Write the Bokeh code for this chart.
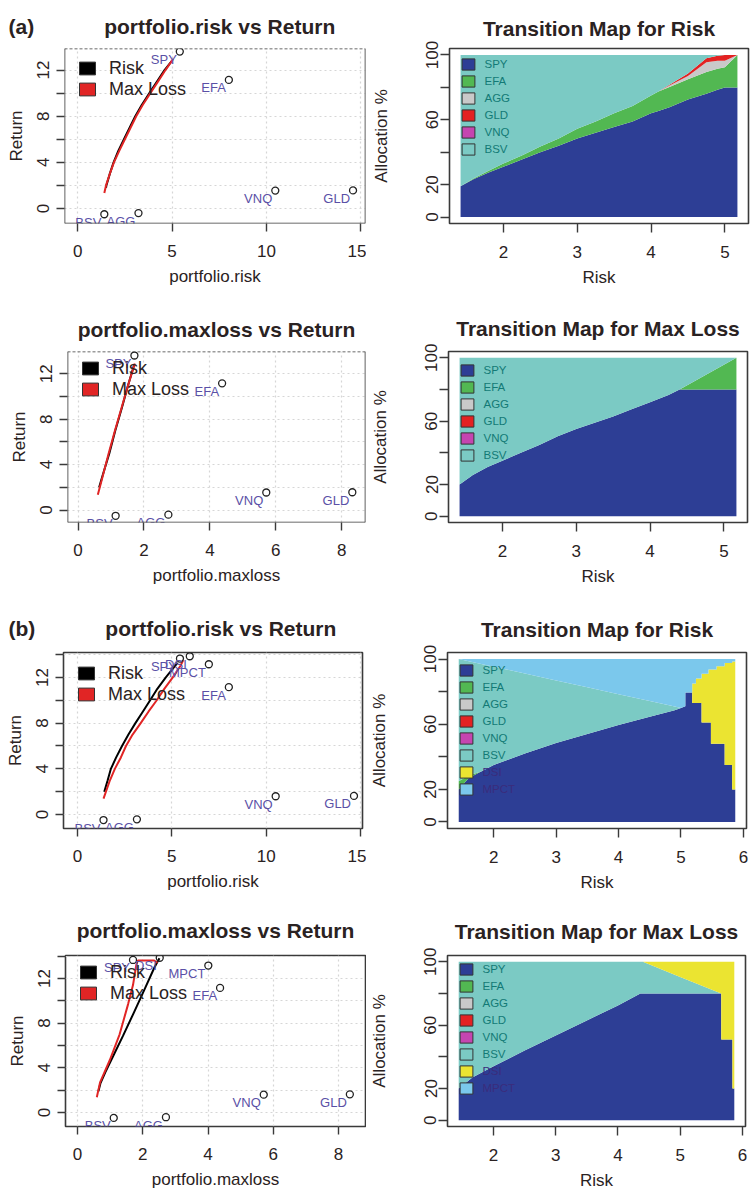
from bokeh.plotting import figure
from bokeh.layouts import column, row
from bokeh.models import (ColumnDataSource, FixedTicker, Range1d, Span,
                          Legend, LegendItem)
from bokeh.core.properties import value
from bokeh.embed import file_html
from bokeh.resources import INLINE

NAN = float("nan")

# ======================= DATA =======================
# ---- (a) asset universe: risk, max loss, return
a_names = ["SPY", "EFA", "AGG", "GLD", "VNQ", "BSV"]
a_return = [13.6, 11.15, -0.4, 1.57, 1.55, -0.5]
a_risk = [5.41, 8.01, 3.22, 14.59, 10.47, 1.41]
a_maxloss = [1.71, 4.37, 2.74, 8.32, 5.71, 1.14]

# ---- (b) asset universe
b_names = ["SPY", "EFA", "AGG", "GLD", "VNQ", "BSV", "DSI", "MPCT"]
b_return = [13.65, 11.15, -0.42, 1.63, 1.6, -0.48, 13.85, 13.15]
b_risk = [5.43, 8.02, 3.15, 14.65, 10.5, 1.38, 5.95, 6.96]
b_maxloss = [1.70, 4.37, 2.71, 8.35, 5.71, 1.11, 2.52, 4.01]

# ---- frontiers (black = Risk frontier, red = Max Loss frontier)
A1_black_x = [1.5, 1.52, 1.7, 1.9, 2.15, 2.45, 2.75, 3.05, 3.4, 3.8, 4.2, 4.6, 4.97]
A1_black_y = [1.8, 2, 3, 4, 5, 6, 7, 8, 9, 10, 11, 12, 12.75]
A1_red_x = [1.41, 1.5, 1.7, 1.92, 2.2, 2.5, 2.8, 3.1, 3.45, 3.85, 4.25, 4.65, 5.05]
A1_red_y = [1.35, 2, 3, 4, 5, 6, 7, 8, 9, 10, 11, 12, 12.95]

A2_black_x = [0.64, 0.74, 0.95, 1.13, 1.33, 1.52, 1.70]
A2_black_y = [2.0, 3, 5, 7, 9, 11, 12.75]
A2_red_x = [0.60, 0.75, 0.93, 1.12, 1.32, 1.52, 1.72]
A2_red_y = [1.35, 3, 5, 7, 9, 11, 12.9]

B1_black_x = [1.42, 1.6, 1.77, 2.05, 2.36, 2.7, 3.07, 3.46, 3.85, 4.23, 4.68, 5.17, 5.3]
B1_black_y = [2.0, 3, 4, 5, 6, 7, 8, 9, 10, 11, 12, 13, 13.3]
B1_red_x = [1.38, 1.72, 1.98, 2.3, 2.57, 2.92, 3.35, 3.76, 4.2, 4.6, 5.05, 5.45, 5.6]
B1_red_y = [1.4, 3, 4, 5, 6, 7, 8, 9, 10, 11, 12, 13, 13.5]

B2_black_x = [0.64, 0.70, 0.85, 1.10, 1.40, 1.72, 2.05, 2.36, 2.51]
B2_black_y = [1.9, 2.6, 3.6, 5.1, 6.9, 8.9, 11.0, 13.0, 13.8]
B2_red_x = [0.59, 0.69, 0.99, 1.29, 1.55, 1.70, 1.80, 1.85, 2.35, 2.45]
B2_red_y = [1.37, 2.7, 4.7, 7.0, 9.7, 11.4, 13.2, 13.6, 13.6, 13.4]

# ---- transition maps (allocation %, stacked)
TA1_x = [1.42, 1.6, 1.8, 2.0, 2.25, 2.5, 2.75, 3.0, 3.25, 3.5, 3.75, 4.0, 4.1, 4.25, 4.5, 4.75, 4.9, 5.0, 5.17]
TA1_SPY = [19, 23.5, 27.5, 31, 35.5, 40, 44, 48.5, 52, 55.5, 59, 64, 65.5, 67.8, 72.5, 76, 78.5, 80, 80]
TA1_EFA = [0, 0.5, 1, 2, 2.5, 3.5, 4.5, 6, 7, 8.5, 9.5, 11, 12, 12.5, 12.5, 13.5, 13, 12.5, 20]
TA1_AGG = [0, 0, 0, 0, 0, 0, 0, 0, 0, 0, 0, 0, 0, 0.8, 2, 6, 5, 4, 0]
TA1_GLD = [0, 0, 0, 0, 0, 0, 0, 0, 0, 0, 0, 0, 0, 0.6, 1.5, 2.5, 3, 3.5, 0]
TA1_BSV = [81, 76, 71.5, 67, 62, 56.5, 51.5, 45.5, 41, 36, 31.5, 25, 22.5, 18.3, 11.5, 2, 0.5, 0, 0]

TA2_x = [1.42, 1.6, 1.8, 2.0, 2.25, 2.5, 2.75, 3.0, 3.25, 3.5, 3.75, 4.0, 4.25, 4.4, 4.6, 4.8, 5.0, 5.17]
TA2_SPY = [20, 26, 31, 35, 40, 45, 50.5, 55, 59, 63, 67.5, 72, 76.5, 80, 80, 80, 80, 80]
TA2_EFA = [0, 0, 0, 0, 0, 0, 0, 0, 0, 0, 0, 0, 0, 0, 5.2, 10.4, 15.6, 20]
TA2_BSV = [80, 74, 69, 65, 60, 55, 49.5, 45, 41, 37, 32.5, 28, 23.5, 20, 14.8, 9.6, 4.4, 0]

TB1_x = [1.44, 1.6, 1.8, 2.0, 2.5, 3.0, 3.5, 4.0, 4.5, 4.9, 5.0, 5.07, 5.07, 5.18, 5.18, 5.24, 5.24,
         5.33, 5.33, 5.44, 5.44, 5.48, 5.48, 5.57, 5.57, 5.70, 5.70, 5.82, 5.82, 5.87]
TB1_SPY = [20, 27, 31, 35, 42, 48.5, 54, 59.5, 64.5, 68.5, 70, 71, 79.5, 79.5, 73, 73, 73,
           73, 61, 61, 61, 61, 48, 48, 48, 48, 35, 35, 20, 20]
TB1_EFA = [5, 1.5, 0, 0, 0, 0, 0, 0, 0, 0, 0, 0, 0, 0, 0, 0, 0,
           0, 0, 0, 0, 0, 0, 0, 0, 0, 0, 0, 0, 0]
TB1_BSV = [75, 70.2, 66, 60.3, 49.1, 38.3, 28.6, 18.9, 9.7, 2.3, 0, 0, 0, 0, 0, 0, 0,
           0, 0, 0, 0, 0, 0, 0, 0, 0, 0, 0, 0, 0]
TB1_DSI = [0, 0, 0, 0, 0, 0, 0, 0, 0, 0, 0, 0, 0, 0, 12, 12, 15,
           15, 30, 30, 32.5, 32.5, 45.5, 45.5, 47.5, 47.5, 62.5, 62.5, 78.5, 78.5]
TB1_MPCT = [0, 1.3, 3.0, 4.7, 8.9, 13.2, 17.4, 21.6, 25.8, 29.2, 30, 29, 20.5, 20.5, 15, 15, 12,
            12, 9, 9, 6.5, 6.5, 6.5, 6.5, 4.5, 4.5, 2.5, 2.5, 1.5, 1.5]

TB2_x = [1.44, 1.66, 2.0, 2.5, 3.0, 3.5, 4.0, 4.36, 4.4, 5.0, 5.66, 5.66, 5.84, 5.84, 5.87]
TB2_SPY = [20, 27, 34, 44, 53.5, 63, 72.5, 80, 80, 80, 80, 51, 51, 20, 20]
TB2_BSV = [80, 73, 66, 56, 46.5, 37, 27.5, 20, 20, 10.5, 0, 0, 0, 0, 0]
TB2_DSI = [0, 0, 0, 0, 0, 0, 0, 0, 0, 9.5, 20, 49, 49, 80, 80]

# ======================= STYLE =======================
FONT = "Liberation Sans"
TXT = "#2a2222"
BOX = "#3a3a3a"
LAB = "#5a50a6"
LEGTXT = "#137a76"
LEGTXT2 = "#3a2c7c"
RED = "#e12525"
COLORS = {"SPY": "#2d3e95", "EFA": "#52b852", "AGG": "#c9c9c9", "GLD": "#e32222",
          "VNQ": "#c545b0", "BSV": "#7bcac4", "DSI": "#ebe431", "MPCT": "#7bc8ec"}
NBSP = "\u00a0"


def base_fig(geom, xr, yr, title, xlabel, ylabel, tick_out, ystd, ylstd, xstd, xlstd, tag=None):
    W, H, fl, ft, fw, fh = geom
    p = figure(width=W, height=H, x_range=Range1d(*xr), y_range=Range1d(*yr),
               output_backend="svg", toolbar_location=None, tools="",
               min_border_left=fl, min_border_top=ft,
               min_border_right=W - fl - fw, min_border_bottom=H - ft - fh)
    if tag:
        # panel tag "(a)"/"(b)" sits at the far left of the same title line
        p.title.text = tag + NBSP * 12 + title
        p.title.align = "left"
        p.title.offset = 8 - fl
    else:
        p.title.text = title
        p.title.align = "center"
    p.title.text_font = FONT
    p.title.text_font_size = "21px"
    p.title.text_font_style = "bold"
    p.title.text_color = TXT
    p.title.vertical_align = "bottom"
    p.title.standoff = ft - 27
    p.outline_line_color = BOX
    p.outline_line_width = 1.6
    for ax, lab in ((p.xaxis, xlabel), (p.yaxis, ylabel)):
        ax.axis_label = lab
        ax.axis_label_text_font = FONT
        ax.axis_label_text_font_style = "normal"
        ax.axis_label_text_font_size = "17px"
        ax.axis_label_text_color = TXT
        ax.major_label_text_font = FONT
        ax.major_label_text_font_size = "17px"
        ax.major_label_text_color = TXT
        ax.axis_line_color = None
        ax.major_tick_line_color = BOX
        ax.major_tick_line_width = 1.4
        ax.major_tick_out = tick_out
        ax.major_tick_in = 0
        ax.minor_tick_line_color = None
    p.yaxis.major_label_orientation = "vertical"
    p.yaxis.major_label_standoff = ystd
    p.yaxis.axis_label_standoff = ylstd
    p.xaxis.major_label_standoff = xstd
    p.xaxis.axis_label_standoff = xlstd
    return p


def frontier_panel(geom, xr, yr, xticks, yticks, title, xlabel, names, px, py,
                   bx, by, rx, ry, dotted_top, tag=None):
    W, H, fl, ft, fw, fh = geom
    p = base_fig(geom, xr, yr, title, xlabel, "Return", 8, 7, 9, 13, 7, tag)
    p.xaxis.ticker = FixedTicker(ticks=xticks)
    p.yaxis.ticker = FixedTicker(ticks=yticks)
    p.yaxis.major_label_overrides = {t: "" for t in yticks if t % 4 != 0}
    p.xgrid.ticker = FixedTicker(ticks=xticks)
    p.ygrid.ticker = FixedTicker(ticks=yticks)
    p.grid.grid_line_color = "#d6d6d6"
    p.grid.grid_line_dash = "2 3"
    p.grid.grid_line_width = 1.2
    if dotted_top:
        p.outline_line_color = None
        for loc, dim, dash in ((yr[0], "width", "solid"), (yr[1], "width", "3 2"),
                               (xr[0], "height", "solid"), (xr[1], "height", "solid")):
            p.add_layout(Span(location=loc, dimension=dim, line_color=BOX,
                              line_width=1.6, line_dash=dash))
    p.line(bx, by, line_color="black", line_width=2)
    p.line(rx, ry, line_color=RED, line_width=2)
    src = ColumnDataSource(dict(x=px, y=py, name=names))
    p.scatter("x", "y", source=src, marker="circle", size=7, fill_color=None,
              line_color="#222222", line_width=1.3)
    p.text("x", "y", text="name", source=src, text_align="right",
           text_baseline="middle", x_offset=-3, y_offset=8,
           text_font=value(FONT), text_font_size="13px", text_color=LAB)
    rb = p.rect(x=[NAN], y=[NAN], width=1, height=1, fill_color="black", line_color="#333333")
    rr = p.rect(x=[NAN], y=[NAN], width=1, height=1, fill_color=RED, line_color="#333333")
    leg = Legend(items=[LegendItem(label="Risk", renderers=[rb]),
                        LegendItem(label="Max Loss", renderers=[rr])],
                 location=(13, fh - 52.5), padding=0, margin=0, spacing=0,
                 glyph_width=20, glyph_height=16, label_height=21,
                 label_standoff=12, border_line_color=None,
                 background_fill_alpha=0, label_text_font=FONT,
                 label_text_font_size="18px", label_text_color=TXT)
    leg.level = "underlay"
    p.add_layout(leg)
    return p


def transition_panel(geom, xr, xticks, title, x, stack_names, stack_vals, legend_main, legend_extra):
    W, H, fl, ft, fw, fh = geom
    p = base_fig(geom, xr, (-4, 104), title, "Risk", "Allocation %", 9, 2, 33, 13, 7)
    p.grid.visible = False
    p.xaxis.ticker = FixedTicker(ticks=xticks)
    p.yaxis.ticker = FixedTicker(ticks=[0, 20, 40, 60, 80, 100])
    p.yaxis.major_label_overrides = {40: "", 80: ""}
    data = dict(x=x)
    for n, v in zip(stack_names, stack_vals):
        data[n] = v
    src = ColumnDataSource(data)
    p.varea_stack(stackers=stack_names, x="x", color=[COLORS[n] for n in stack_names], source=src)

    def make_legend(names, color, top_offset):
        items = []
        for n in names:
            r = p.rect(x=[NAN], y=[NAN], width=1, height=1, fill_color=COLORS[n],
                       line_color="#333333")
            items.append(LegendItem(label=n, renderers=[r]))
        h = len(names) * 14 + (len(names) - 1) * 3
        leg = Legend(items=items, location=(10.5, fh - top_offset - h), padding=0, margin=0,
                     spacing=3, glyph_width=16, glyph_height=14, label_height=14,
                     label_standoff=9, border_line_color=None, background_fill_alpha=0,
                     label_text_font=FONT, label_text_font_size="11.5px",
                     label_text_color=color)
        p.add_layout(leg)

    make_legend(legend_main, LEGTXT, 12)
    if legend_extra:
        make_legend(legend_extra, LEGTXT2, 12 + 6 * 17)
    return p


# ======================= PANELS =======================
L1 = frontier_panel((366, 300, 64, 48, 301, 176), (-0.7, 15.25), (-1.3, 13.87),
                    [0, 5, 10, 15], [0, 2, 4, 6, 8, 10, 12],
                    "portfolio.risk vs Return", "portfolio.risk",
                    a_names, a_risk, a_return, A1_black_x, A1_black_y, A1_red_x, A1_red_y,
                    True, tag="(a)")
R1 = transition_panel((386, 300, 83, 45, 299, 178), (1.27, 5.32), [2, 3, 4, 5],
                      "Transition Map for Risk", TA1_x,
                      ["SPY", "EFA", "AGG", "GLD", "BSV"],
                      [TA1_SPY, TA1_EFA, TA1_AGG, TA1_GLD, TA1_BSV],
                      ["SPY", "EFA", "AGG", "GLD", "VNQ", "BSV"], None)

L2 = frontier_panel((366, 300, 67, 48, 298, 175), (-0.32, 8.72), (-1.09, 13.95),
                    [0, 2, 4, 6, 8], [0, 2, 4, 6, 8, 10, 12],
                    "portfolio.maxloss vs Return", "portfolio.maxloss",
                    a_names, a_maxloss, a_return, A2_black_x, A2_black_y, A2_red_x, A2_red_y, True)
R2 = transition_panel((386, 300, 82, 51, 299, 171), (1.27, 5.32), [2, 3, 4, 5],
                      "Transition Map for Max Loss", TA2_x,
                      ["SPY", "EFA", "BSV"], [TA2_SPY, TA2_EFA, TA2_BSV],
                      ["SPY", "EFA", "AGG", "GLD", "VNQ", "BSV"], None)

L3 = frontier_panel((366, 300, 63, 52, 299, 176), (-0.74, 15.1), (-1.22, 14.18),
                    [0, 5, 10, 15], [0, 2, 4, 6, 8, 10, 12, 14],
                    "portfolio.risk vs Return", "portfolio.risk",
                    b_names, b_risk, b_return, B1_black_x, B1_black_y, B1_red_x, B1_red_y,
                    False, tag="(b)")
R3 = transition_panel((386, 300, 80, 51, 300, 177), (1.26, 6.05), [2, 3, 4, 5, 6],
                      "Transition Map for Risk", TB1_x,
                      ["SPY", "EFA", "BSV", "DSI", "MPCT"],
                      [TB1_SPY, TB1_EFA, TB1_BSV, TB1_DSI, TB1_MPCT],
                      ["SPY", "EFA", "AGG", "GLD", "VNQ", "BSV"], ["DSI", "MPCT"])

L4 = frontier_panel((366, 292, 65, 55, 300, 175), (-0.37, 8.83), (-1.25, 14.05),
                    [0, 2, 4, 6, 8], [0, 2, 4, 6, 8, 10, 12, 14],
                    "portfolio.maxloss vs Return", "portfolio.maxloss",
                    b_names, b_maxloss, b_return, B2_black_x, B2_black_y, B2_red_x, B2_red_y, False)
R4 = transition_panel((386, 292, 81, 53, 298, 176), (1.26, 6.05), [2, 3, 4, 5, 6],
                      "Transition Map for Max Loss", TB2_x,
                      ["SPY", "BSV", "DSI"], [TB2_SPY, TB2_BSV, TB2_DSI],
                      ["SPY", "EFA", "AGG", "GLD", "VNQ", "BSV"], ["DSI", "MPCT"])

layout = column(row(L1, R1), row(L2, R2), row(L3, R3), row(L4, R4))

open("out.html", "w").write(file_html(layout, INLINE))
